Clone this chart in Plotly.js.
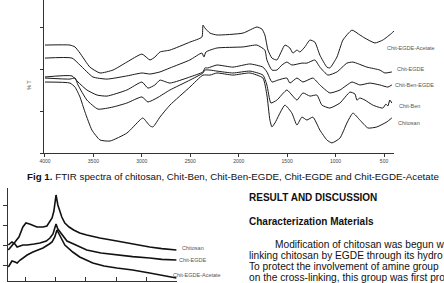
<!DOCTYPE html>
<html>
<head>
<meta charset="utf-8">
<script src="https://cdn.plot.ly/plotly-3.0.1.min.js"></script>
<style>html,body{margin:0;padding:0;background:#fff;}#chart{width:444px;height:283px;}</style>
</head>
<body>
<div id="chart"></div>
<script>
// ---------- FTIR data (wavenumber cm-1, %T arbitrary) ----------
const acetateWn = [4000,3742,3690,3639,3536,3432,3298,3154,2999,2916,2865,2813,2710,2504,2380,2369,2349,2297,2225,1956,1812,1760,1730,1698,1657,1606,1523,1472,1441,1399,1368,1317,1265,1214,1162,1090,1059,986,924,831,749,697,594,512,419,398];
const acetateT  = [51.4,51.4,50.5,47.6,40.9,38.1,39.5,43.3,47.1,44.3,45.7,48.1,49.0,52.8,55.2,60.9,59.5,57.1,56.2,57.1,60.0,59.0,56.2,49.0,45.2,44.3,51.4,50.0,47.6,49.0,48.1,50.5,53.8,52.8,46.6,40.9,40.5,45.7,53.8,58.5,56.2,54.7,52.4,53.8,57.1,58.1];

const egdeWn = [4000,3721,3639,3505,3360,3154,2999,2916,2813,2710,2504,2380,2359,2338,2225,1956,1812,1730,1709,1657,1606,1554,1503,1451,1348,1296,1214,1162,1079,986,883,821,676,543,491,419];
const egdeT  = [45.2,45.2,41.9,36.2,35.2,36.7,38.1,37.6,38.6,40.5,44.3,47.6,45.7,48.1,50.0,50.5,51.4,49.0,44.3,39.5,39.5,41.9,43.3,41.9,42.8,42.8,44.3,40.9,37.1,38.6,42.8,43.3,40.9,39.5,38.1,38.6];

const benEgdeWn = [4000,3721,3659,3567,3463,3360,3154,2999,2937,2865,2813,2710,2504,2369,2349,2318,2225,2060,1884,1750,1709,1657,1596,1503,1472,1399,1337,1234,1162,1059,955,831,749,646,543,460,419];
const benEgdeT  = [36.2,36.7,33.8,30.0,27.6,27.1,30.0,33.8,30.9,32.4,34.7,33.3,36.2,38.6,40.5,40.5,41.9,40.9,42.4,40.9,38.6,33.8,34.7,35.7,33.3,35.7,33.8,35.7,32.4,28.6,30.0,33.8,32.4,33.3,32.4,31.4,32.4];

const benWn = [4000,3742,3690,3659,3567,3453,3298,3154,2999,2937,2844,2710,2504,2369,2349,2297,2225,2060,1884,1750,1709,1668,1606,1503,1451,1399,1337,1265,1193,1141,1059,955,852,800,780,749,697,615,512,481,460,440,419];
const benT  = [35.7,35.2,35.7,32.4,25.2,20.9,21.9,23.8,26.7,24.3,26.2,30.0,34.7,38.1,39.5,39.5,39.0,38.1,39.0,37.1,32.4,23.8,25.2,30.0,27.6,25.2,28.6,27.1,27.6,22.8,21.4,23.8,29.0,28.1,25.2,26.2,25.2,22.8,21.4,23.3,22.4,25.2,23.8];

const chitosanWn = [4000,3742,3690,3639,3587,3515,3432,3329,3154,3020,2989,2916,2885,2813,2710,2504,2369,2297,2225,2060,1884,1750,1709,1678,1657,1626,1523,1451,1399,1348,1296,1234,1162,1090,1038,955,883,821,749,666,574,471,419];
const chitosanT  = [33.8,33.3,31.4,26.7,19.5,10.9,6.2,5.7,9.5,15.7,16.7,12.9,12.4,17.1,22.8,31.4,37.1,37.1,38.1,37.1,38.1,35.7,27.6,15.7,12.4,14.3,22.8,19.0,13.3,17.1,15.7,17.1,10.9,6.2,4.8,7.1,14.3,19.0,15.7,11.9,12.4,14.8,16.7];

const ftirTickVals = [4000,3500,3000,2500,2000,1500,1000,500];
const ftirTickText = ['4000','3500','3000','2500','2000','1500','1000','500'];
const ftirNames = ['Chit-EGDE-Acetate','Chit-EGDE','Chit-Ben-EGDE','Chit-Ben','Chitosan'];

// ---------- XRD data (2theta, intensity arbitrary) ----------
const xrdChitosan2t = [4.5,5.7,6.7,8.0,9.3,10.3,11.5,13.9,15.9,17.2,18.2,18.9,19.5,20.2,20.8,21.5,22.1,23.1,24.5,26.0,28.0,30.3,34.6,40.2,45.4,51.0,55.0,59.8];
const xrdChitosanI  = [175,195,215,240,290,310,305,290,290,295,320,335,370,450,400,365,340,310,290,275,260,250,235,220,205,190,182,175];
const xrdEgde2t = [4.5,5.7,6.7,7.4,9.3,10.7,13.0,14.9,17.0,18.2,19.2,20.2,20.8,21.5,22.5,23.8,26.0,30.3,35.0,40.2,45.4,51.0,55.0,59.8];
const xrdEgdeI  = [200,215,205,190,200,200,205,210,220,235,255,305,280,265,245,220,205,175,160,150,142,135,128,125];
const xrdAcetate2t = [4.5,5.7,6.7,7.4,8.4,10.7,12.6,15.9,18.0,18.9,19.8,20.5,21.2,22.1,23.1,25.7,28.0,32.3,36.0,40.2,45.4,51.0,55.0,59.8];
const xrdAcetateI  = [90,120,115,110,125,150,165,185,205,215,240,275,255,225,200,165,140,110,95,85,75,60,50,35];
const xrdNames = ['Chitosan','Chit-EGDE','Chit-EGDE-Acetate'];

// ---------- helpers for layout positions (pixels -> paper) ----------
const W = 444, H = 283;
const px = x => x / W;
const py = y => 1 - y / H;

const lineStyle = {color:'#1a1a1a', width:1, shape:'spline', smoothing:0.5};
const xrdStyle = {color:'#111', width:1.6};

const traces = [
  {x:acetateWn, y:acetateT, mode:'lines', line:lineStyle, name:ftirNames[0], xaxis:'x', yaxis:'y'},
  {x:egdeWn, y:egdeT, mode:'lines', line:lineStyle, name:ftirNames[1], xaxis:'x', yaxis:'y'},
  {x:benEgdeWn, y:benEgdeT, mode:'lines', line:lineStyle, name:ftirNames[2], xaxis:'x', yaxis:'y'},
  {x:benWn, y:benT, mode:'lines', line:lineStyle, name:ftirNames[3], xaxis:'x', yaxis:'y'},
  {x:chitosanWn, y:chitosanT, mode:'lines', line:lineStyle, name:ftirNames[4], xaxis:'x', yaxis:'y'},
  {x:xrdChitosan2t, y:xrdChitosanI, mode:'lines', line:xrdStyle, name:xrdNames[0], xaxis:'x2', yaxis:'y2'},
  {x:xrdEgde2t, y:xrdEgdeI, mode:'lines', line:xrdStyle, name:xrdNames[1], xaxis:'x2', yaxis:'y2'},
  {x:xrdAcetate2t, y:xrdAcetateI, mode:'lines', line:xrdStyle, name:xrdNames[2], xaxis:'x2', yaxis:'y2'}
];

const FAM = 'Liberation Sans, Arial, sans-serif';
const labelFont = {family:FAM, size:5.5, color:'#555'};
const headFont = {family:FAM, size:10, color:'#111'};
const bodyFont = {family:FAM, size:10.2, color:'#111'};

function ann(text, x, y, font, extra) {
  return Object.assign({text:text, xref:'paper', yref:'paper', x:px(x), y:py(y),
    xanchor:'left', yanchor:'middle', showarrow:false, font:font}, extra || {});
}

const annotations = [
  ann(ftirNames[0], 385, 48, labelFont),
  ann(ftirNames[1], 395, 69, labelFont),
  ann(ftirNames[2], 393, 85, labelFont),
  ann(ftirNames[3], 397, 106, labelFont),
  ann(ftirNames[4], 396, 123, labelFont),
  ann('% T', 29, 85, labelFont, {xanchor:'center', textangle:-90}),
  ann('<b>Fig 1.</b> FTIR spectra of chitosan, Chit-Ben, Chit-Ben-EGDE, Chit-EGDE and Chit-EGDE-Acetate', 25, 176, {family:FAM, size:9.75, color:'#111'}),
  ann(xrdNames[0], 180, 248, labelFont),
  ann(xrdNames[1], 177, 260, labelFont),
  ann(xrdNames[2], 171, 275, labelFont),
  ann('<b>RESULT AND DISCUSSION</b>', 247, 197, headFont),
  ann('<b>Characterization Materials</b>', 247, 221, headFont),
  ann('Modification of chitosan was begun w', 273, 244, bodyFont),
  ann('linking chitosan by EGDE through its hydro', 247, 255, bodyFont),
  ann('To protect the involvement of amine group', 247, 266, bodyFont),
  ann('on the cross-linking, this group was first pro', 247, 277, bodyFont)
];

const axisCommon = {showgrid:false, zeroline:false, showline:true, linecolor:'#333', linewidth:1,
  ticks:'outside', ticklen:3, tickwidth:1, tickcolor:'#333', fixedrange:true};

const layout = {
  width: W, height: H,
  margin: {l:0, r:0, t:0, b:0, pad:0},
  paper_bgcolor:'#fff', plot_bgcolor:'rgba(0,0,0,0)',
  showlegend:false,
  xaxis: Object.assign({}, axisCommon, {
    domain:[px(44), px(394)], range:[4010, 397], anchor:'y',
    tickmode:'array', tickvals:ftirTickVals, ticktext:ftirTickText,
    tickfont:{family:FAM, size:5, color:'#444'}
  }),
  yaxis: Object.assign({}, axisCommon, {
    domain:[py(153), 1], range:[0, 72.86], anchor:'x',
    tickmode:'array', tickvals:[0,20,40,60], showticklabels:false
  }),
  xaxis2: Object.assign({}, axisCommon, {
    domain:[px(8), px(177)], range:[4.4, 60], anchor:'y2',
    tickmode:'array', tickvals:[10,20,30,40,50,60], showticklabels:false, ticks:'inside', ticklen:4
  }),
  yaxis2: Object.assign({}, axisCommon, {
    domain:[py(281), py(188)], range:[20, 485], anchor:'x2',
    tickmode:'array', tickvals:[100,200,300,400], showticklabels:false, ticklen:4
  }),
  annotations: annotations
};

Plotly.newPlot('chart', traces, layout, {staticPlot:true, displayModeBar:false});
</script>
</body>
</html>
